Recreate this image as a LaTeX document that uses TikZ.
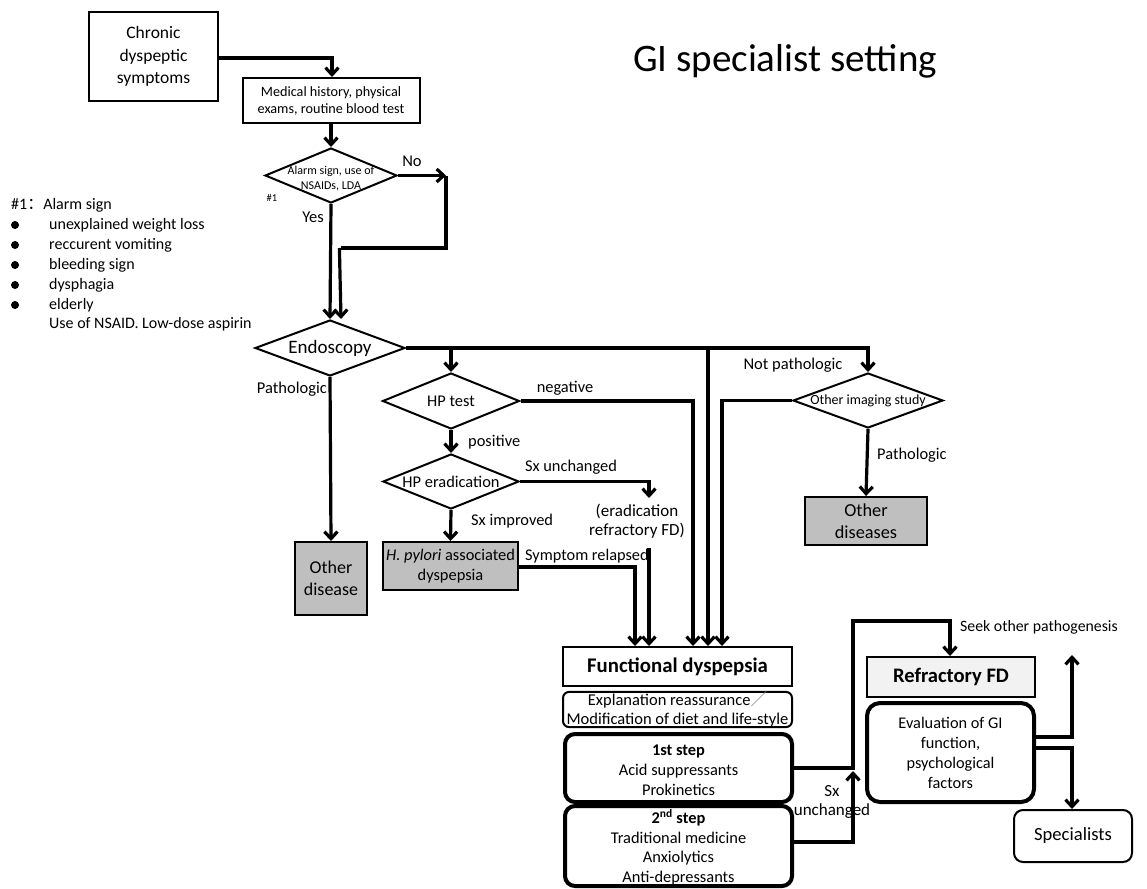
\documentclass[tikz,border=0pt]{standalone}
\usepackage{fontspec}
\setmainfont{Carlito}
\newfontfamily\cjk{Noto Sans CJK SC}
\usetikzlibrary{shapes.geometric,arrows.meta}
\definecolor{gfill}{HTML}{BFBFBF}
\definecolor{lfill}{HTML}{F2F2F2}
\tikzset{
  fs/.style={font=\fontsize{#1}{#1}\selectfont},
  box/.style={draw, line width=2pt, align=center, inner sep=0pt},
  rbox/.style={draw, line width=4pt, rounded corners=10pt, align=center, inner sep=0pt},
  dia/.style={draw, diamond, line width=2pt, inner sep=0pt},
  txt/.style={inner sep=0pt, align=center},
  conn/.style={line width=3.2pt},
  arr/.style={line width=3.2pt, -{Straight Barb[length=7pt,width=13pt]}},
}
\begin{document}
\begin{tikzpicture}[x=1pt,y=-1pt]
\useasboundingbox (0,0) rectangle (1147,888);

% title
\node[txt, font=\fontsize{39}{42}\selectfont] (title) at (785,61) {GI specialist setting};

% left legend
\node[txt, anchor=west, fs=16] (leg0) at (11,205) {\#1{\cjk ：}Alarm sign};
\foreach \i/\t in {1/unexplained weight loss, 2/reccurent vomiting, 3/bleeding sign, 4/dysphagia, 5/elderly}{
  \fill (15,{205+20*\i}) circle (4);
  \node[txt, anchor=west, fs=16] (leg\i) at (49,{205+20*\i}) {\t};
}
\node[txt, anchor=west, fs=16] (leg6) at (49,324) {Use of NSAID. Low-dose aspirin};

% top
\node[box, minimum width=129, minimum height=89, font=\fontsize{17.5}{22.5}\selectfont] (chronic) at (153.5,56.5) {Chronic\\dyspeptic\\symptoms};
\node[box, minimum width=177, minimum height=45, font=\fontsize{14.2}{17}\selectfont] (medical) at (331,100.5) {Medical history, physical\\exams, routine blood test};
\node[dia, minimum width=132, minimum height=55, label={[txt, font=\fontsize{12}{15}\selectfont, yshift=-3pt]center:Alarm sign, use of\\NSAIDs, LDA}] (alarm) at (331,175.5) {};
\node[txt, fs=16.5] (no) at (412,161) {No};
\node[txt, fs=10.5] (h1) at (272,198) {\#1};
\node[txt, anchor=east, fs=16.5] (yes) at (324,217) {Yes};

\coordinate (c1) at (332,58);
\draw[arr] (chronic.east |- c1) -- (c1) -- (medical.north -| c1);
\draw[arr] (medical.south) -- (alarm.north);
\coordinate (n1) at (446,175.5);
\coordinate (n2) at (446,248);
\coordinate (n3) at (341,248);
\draw[arr] (alarm.east) -- (n1);
\draw[conn] (n1) -- (n2) -- (n3);

% endoscopy
\node[dia, minimum width=150, minimum height=56, label={[txt, font=\fontsize{19}{21}\selectfont]center:Endoscopy}] (endo) at (330,348) {};
\draw[arr] (alarm.south) -- (endo.north);
\draw[arr] ([xshift=-1.6pt]n3) -- (n3 |- endo.north);
\node[txt, anchor=east, fs=16.5] (patho1) at (327,389) {Pathologic};
\node[box, fill=gfill, minimum width=72, minimum height=73, font=\fontsize{18}{22}\selectfont] (od) at (331,578.5) {Other\\disease};
\draw[arr] (endo.south) -- (od.north);

% main horizontal
\node[dia, minimum width=150, minimum height=55, label={[txt, font=\fontsize{14}{16}\selectfont]center:Other imaging study}] (oimg) at (868,400.5) {};
\draw[arr] (endo.east) -- (oimg.north |- endo.east) -- (oimg.north);
\node[txt, fs=16.5] (notpath) at (793,365) {Not pathologic};

% HP
\node[dia, minimum width=137, minimum height=56, label={[txt, font=\fontsize{16.4}{18}\selectfont]center:HP test}] (hpt) at (451,401) {};
\node[dia, minimum width=136, minimum height=55, label={[txt, font=\fontsize{16.4}{18}\selectfont]center:HP eradication}] (hpe) at (451,481.5) {};
\draw[arr] (hpt.north |- endo.east) -- (hpt.north);
\draw[arr] (hpt.south) -- (hpe.north);
\node[txt, anchor=west, fs=16.4] (pos) at (468,442) {positive};
\node[txt, fs=16.4] (neg) at (565,388) {negative};
\node[txt, fs=16.4] (sxu1) at (571,467) {Sx unchanged};
\node[txt, anchor=west, fs=16.4] (sxi) at (471,521) {Sx improved};
\node[txt, font=\fontsize{17}{19}\selectfont] (erfd) at (637,521) {(eradication\\refractory FD)};
\coordinate (e1) at (649,481.5);
\coordinate (e2) at (649,498);
\draw[arr] (hpe.east) -- (e1) -- (e2);
\node[box, fill=gfill, minimum width=135, minimum height=48, font=\fontsize{16.4}{20}\selectfont] (hpy) at (450.5,566) {\textit{H. pylori} associated\\dyspepsia};
\draw[arr] (hpe.south) -- (hpy.north);
\node[txt, anchor=west, fs=16.3] (relapse) at (525,556) {Symptom relapsed};

% other diseases
\node[box, fill=gfill, minimum width=122, minimum height=48, font=\fontsize{18.3}{22}\selectfont] (ods) at (866,521) {Other\\diseases};
\draw[arr] (oimg.south) -- (ods.north);
\node[txt, anchor=west, fs=16.4] (patho2) at (877,455) {Pathologic};

% functional dyspepsia
\node[box, minimum width=229, minimum height=39, font=\fontsize{20.8}{22}\selectfont\bfseries] (fd) at (677.5,666.5) {Functional dyspepsia};
\coordinate (r1) at (635,567);
\draw[arr] (hpy.east |- r1) -- (r1) -- (r1 |- fd.north);
\coordinate (r2) at (649,548);
\draw[arr] (r2) -- (r2 |- fd.north);
\coordinate (r3) at (693,401);
\draw[arr] (hpt.east) -- (r3) -- (r3 |- fd.north);
\coordinate (r4) at (708,348);
\draw[arr] (r4) -- (r4 |- fd.north);
\coordinate (r5) at (722,400.5);
\draw[arr] (oimg.west) -- (r5) -- (r5 |- fd.north);

\node[draw, line width=2pt, rounded corners=6pt, minimum width=229, minimum height=33, inner sep=0pt, align=center, font=\fontsize{16.5}{18.5}\selectfont] (expl) at (677.5,709.5) {Explanation reassurance{\cjk\color{gray}／}\\Modification of diet and life-style};

\node[rbox, minimum width=227, minimum height=68, label={[txt, font=\fontsize{16.4}{20}\selectfont, yshift=-2pt]center:\textbf{1st step}\\Acid suppressants\\Prokinetics}] (s1) at (678.5,768) {};
\node[rbox, minimum width=227, minimum height=80, label={[txt, font=\fontsize{16.4}{19.5}\selectfont, yshift=-1pt]center:\textbf{2\textsuperscript{nd} step}\\Traditional medicine\\Anxiolytics\\Anti-depressants}] (s2) at (678.5,846) {};

% refractory
\node[box, fill=lfill, minimum width=168, minimum height=40, font=\fontsize{20.6}{22}\selectfont\bfseries] (refr) at (951,677) {Refractory FD};
\node[rbox, rounded corners=13pt, minimum width=167, minimum height=99, font=\fontsize{16.3}{20}\selectfont] (eval) at (950.5,752.5) {Evaluation of GI\\function,\\psychological\\factors};
\node[draw, line width=2pt, rounded corners=9pt, minimum width=118, minimum height=52, inner sep=0pt, font=\fontsize{18.6}{20}\selectfont] (spec) at (1073,836) {Specialists};

\coordinate (u1) at (853,768);
\coordinate (u2) at (853,621);
\coordinate (u3) at (950,621);
\coordinate (u4) at (853,842);
\coordinate (u5) at (853,771);
\draw[arr] (s1.east |- u1) -- (u1) -- (u2) -- (u3) -- (refr.north -| u3);
\draw[arr] (s2.east |- u4) -- (u4) -- (u5);
\node[txt, font=\fontsize{17}{19}\selectfont] (sxu2) at (832,802) {Sx\\unchanged};
\node[txt, anchor=west, fs=15.8] (seek) at (960,627) {Seek other pathogenesis};

\coordinate (v1) at (1072,737);
\coordinate (v2) at (1072,655);
\coordinate (v3) at (1072,748);
\draw[arr] (eval.east |- v1) -- (v1) -- (v2);
\draw[arr] (eval.east |- v3) -- (v3) -- (spec.north -| v3);
\end{tikzpicture}
\end{document}
